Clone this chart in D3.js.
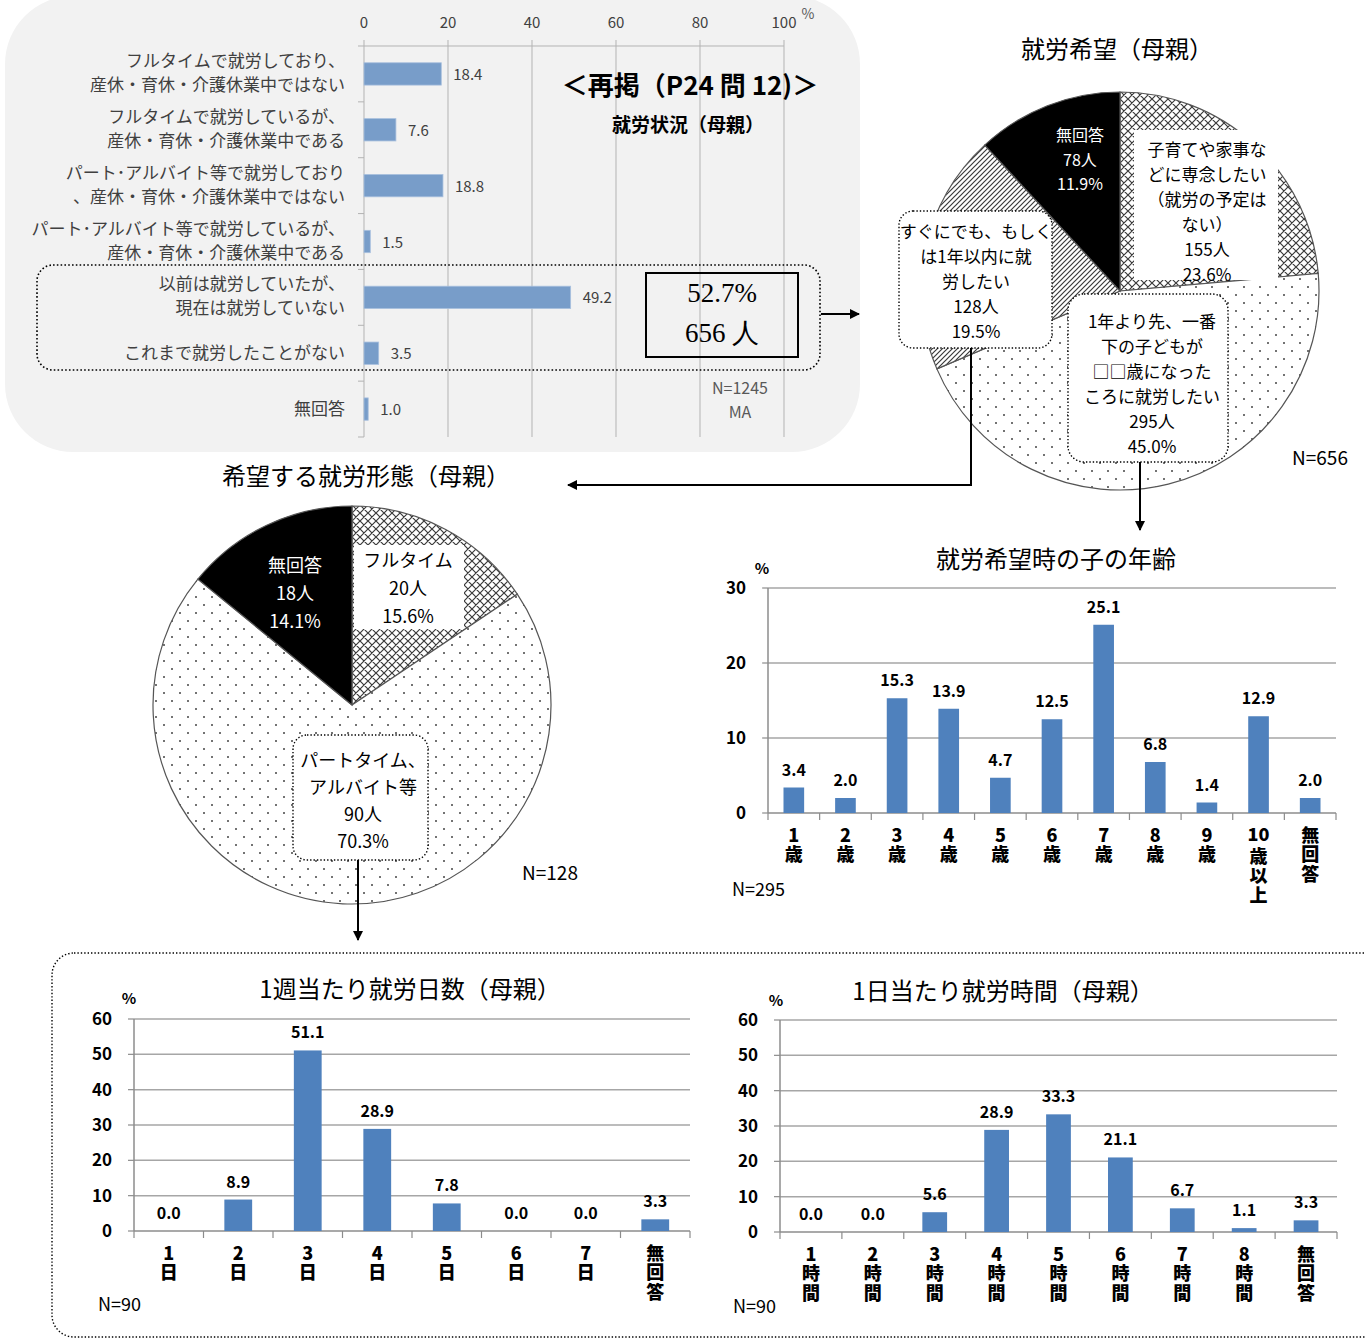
<!DOCTYPE html>
<html><head><meta charset="utf-8">
<script src="https://cdn.jsdelivr.net/npm/d3@7/dist/d3.min.js"></script>
<style>body{margin:0;background:#fff}svg{display:block}</style>
</head><body>
<script>
// ---------------- DATA ----------------
const statusLabels = [
  ["フルタイムで就労しており、", "産休・育休・介護休業中ではない"],
  ["フルタイムで就労しているが、", "産休・育休・介護休業中である"],
  ["パート･アルバイト等で就労しており", "、産休・育休・介護休業中ではない"],
  ["パート･アルバイト等で就労しているが、", "産休・育休・介護休業中である"],
  ["以前は就労していたが、", "現在は就労していない"],
  ["これまで就労したことがない"],
  ["無回答"]
];
const statusValues = [18.4, 7.6, 18.8, 1.5, 49.2, 3.5, 1.0];
const statusTicks = [0, 20, 40, 60, 80, 100];

const wishLabels = [
  ["子育てや家事な", "どに専念したい", "（就労の予定は", "ない）"],
  ["1年より先、一番", "下の子どもが", "□□歳になった", "ころに就労したい"],
  ["すぐにでも、もしく", "は1年以内に就", "労したい"],
  ["無回答"]
];
const wishCounts = [155, 295, 128, 78];
const wishPercents = [23.6, 45.0, 19.5, 11.9];

const formLabels = [["フルタイム"], ["パートタイム、", "アルバイト等"], ["無回答"]];
const formCounts = [20, 90, 18];
const formPercents = [15.6, 70.3, 14.1];

const ageCats = [["1","歳"],["2","歳"],["3","歳"],["4","歳"],["5","歳"],["6","歳"],["7","歳"],["8","歳"],["9","歳"],["10","歳","以","上"],["無","回","答"]];
const ageValues = [3.4, 2.0, 15.3, 13.9, 4.7, 12.5, 25.1, 6.8, 1.4, 12.9, 2.0];
const ageTicks = [0, 10, 20, 30];

const dayCats = [["1","日"],["2","日"],["3","日"],["4","日"],["5","日"],["6","日"],["7","日"],["無","回","答"]];
const dayValues = [0.0, 8.9, 51.1, 28.9, 7.8, 0.0, 0.0, 3.3];
const dayTicks = [0, 10, 20, 30, 40, 50, 60];

const hourCats = [["1","時","間"],["2","時","間"],["3","時","間"],["4","時","間"],["5","時","間"],["6","時","間"],["7","時","間"],["8","時","間"],["無","回","答"]];
const hourValues = [0.0, 0.0, 5.6, 28.9, 33.3, 21.1, 6.7, 1.1, 3.3];
const hourTicks = [0, 10, 20, 30, 40, 50, 60];

// ---------------- SETUP ----------------
const W = 1366, H = 1339;
const FONT = "'Noto Sans CJK JP','Noto Sans',sans-serif";
const svg = d3.select("body").append("svg").attr("width", W).attr("height", H)
  .style("font-family", FONT);
const defs = svg.append("defs");

// patterns
const pc = defs.append("pattern").attr("id", "cross").attr("patternUnits", "userSpaceOnUse").attr("width", 8).attr("height", 8);
pc.append("rect").attr("width", 8).attr("height", 8).attr("fill", "#fff");
pc.append("path").attr("d", "M0,0L8,8M8,0L0,8M-1,7L1,9M7,-1L9,1").attr("stroke", "#3a3a3a").attr("stroke-width", 1.2);

const pd = defs.append("pattern").attr("id", "dots").attr("patternUnits", "userSpaceOnUse").attr("width", 16).attr("height", 16);
pd.append("rect").attr("width", 16).attr("height", 16).attr("fill", "#fff");
pd.append("circle").attr("cx", 4).attr("cy", 4).attr("r", 1).attr("fill", "#444");
pd.append("circle").attr("cx", 12).attr("cy", 12).attr("r", 1).attr("fill", "#444");

const ps = defs.append("pattern").attr("id", "stripes").attr("patternUnits", "userSpaceOnUse").attr("width", 5).attr("height", 5);
ps.append("rect").attr("width", 5).attr("height", 5).attr("fill", "#fff");
ps.append("path").attr("d", "M-1,1L1,-1M0,5L5,0M4,6L6,4").attr("stroke", "#3a3a3a").attr("stroke-width", 1.2);

defs.append("marker").attr("id", "arr").attr("viewBox", "0 0 10 10").attr("refX", 9).attr("refY", 5)
  .attr("markerWidth", 6).attr("markerHeight", 5).attr("orient", "auto")
  .append("path").attr("d", "M0,0L10,5L0,10z").attr("fill", "#000");

function lines(g, arr, x, y0, lh, opts) {
  const t = g.append("text").attr("x", x).attr("y", y0).attr("text-anchor", opts.anchor || "middle")
    .attr("font-size", opts.size || 16).attr("fill", opts.fill || "#000")
    .attr("font-weight", opts.weight || 400);
  if (opts.family) t.style("font-family", opts.family);
  if (opts.ls) t.attr("letter-spacing", opts.ls);
  arr.forEach((s, i) => t.append("tspan").attr("x", x).attr("y", y0 + i * lh).text(s));
  return t;
}

// ---------------- PANEL 1: status bar chart ----------------
const p1 = svg.append("g");
p1.append("rect").attr("x", 5).attr("y", -4).attr("width", 855).attr("height", 456).attr("rx", 68).attr("fill", "#f2f2f2");

const sx = d3.scaleLinear().domain([0, 100]).range([364, 784]);
const sy = d3.scaleBand().domain(statusValues.map((d, i) => i)).range([46, 437]).paddingInner(0.6).paddingOuter(0.3);

p1.selectAll("line.vg").data(statusTicks).join("line")
  .attr("x1", d => sx(d)).attr("x2", d => sx(d)).attr("y1", 40).attr("y2", 437)
  .attr("stroke", "#b3b3b3").attr("stroke-width", 1);
p1.append("line").attr("x1", sx(0)).attr("x2", sx(100)).attr("y1", 46).attr("y2", 46).attr("stroke", "#b3b3b3");
p1.selectAll("line.lt").data(d3.range(statusValues.length + 1)).join("line")
  .attr("x1", sx(0) - 6).attr("x2", sx(0)).attr("y1", i => 46 + i * sy.step()).attr("y2", i => 46 + i * sy.step())
  .attr("stroke", "#b3b3b3");
p1.selectAll("text.tk").data(statusTicks).join("text")
  .attr("x", d => sx(d)).attr("y", 28).attr("text-anchor", "middle").attr("font-size", 15).attr("fill", "#404040").text(d => d);
p1.append("text").attr("x", 808).attr("y", 19).attr("text-anchor", "middle").attr("font-size", 14).attr("fill", "#595959").text("%");

p1.selectAll("rect.bar").data(statusValues).join("rect")
  .attr("x", sx(0)).attr("y", (d, i) => sy(i)).attr("width", d => sx(d) - sx(0)).attr("height", sy.bandwidth())
  .attr("fill", "#789dc9").attr("stroke", "#a9c0de").attr("stroke-width", 0.8);
p1.selectAll("text.val").data(statusValues).join("text")
  .attr("x", d => sx(d) + 12).attr("y", (d, i) => sy(i) + sy.bandwidth() / 2 + 6)
  .attr("font-size", 15).attr("fill", "#404040").text(d => d.toFixed(1));
statusLabels.forEach((lab, i) => {
  const c = sy(i) + sy.bandwidth() / 2;
  const y0 = lab.length === 2 ? c - 7 : c + 6;
  lines(p1, lab, 345, y0, 24, { anchor: "end", size: 17, fill: "#404040" });
});

// dotted group box
p1.append("rect").attr("x", 37).attr("y", 265).attr("width", 783).attr("height", 105).attr("rx", 16)
  .attr("fill", "none").attr("stroke", "#000").attr("stroke-width", 1.6).attr("stroke-dasharray", "1.6,2.2");
p1.append("rect").attr("x", 646).attr("y", 273).attr("width", 152).attr("height", 84)
  .attr("fill", "none").attr("stroke", "#000").attr("stroke-width", 2);
lines(p1, ["52.7%", "656 人"], 722, 302, 40, { size: 27, family: "'Liberation Serif','DejaVu Serif',serif" });
p1.append("text").attr("x", 690).attr("y", 95).attr("text-anchor", "middle").attr("font-size", 26).attr("font-weight", 700).text("＜再掲（P24 問 12)＞");
p1.append("text").attr("x", 688).attr("y", 132).attr("text-anchor", "middle").attr("font-size", 19).attr("font-weight", 700).text("就労状況（母親）");
lines(p1, ["N=1245", "MA"], 740, 394, 24, { size: 16, fill: "#595959" });
svg.append("line").attr("x1", 821).attr("x2", 859).attr("y1", 314).attr("y2", 314)
  .attr("stroke", "#000").attr("stroke-width", 2).attr("marker-end", "url(#arr)");

// ---------------- PIE helper ----------------
function pie(cfg) {
  const g = svg.append("g").attr("transform", `translate(${cfg.cx},${cfg.cy})`);
  const arcs = d3.pie().sort(null).value(d => d)(cfg.values);
  const arc = d3.arc().innerRadius(0).outerRadius(cfg.r);
  g.selectAll("path").data(arcs).join("path")
    .attr("d", arc).attr("fill", (d, i) => cfg.fills[i]).attr("stroke", "#555").attr("stroke-width", 1.2);
  return { g, arcs, arc };
}

// ---------------- PIE 1 ----------------
svg.append("text").attr("x", 1117).attr("y", 58).attr("text-anchor", "middle").attr("font-size", 24).text("就労希望（母親）");
pie({ cx: 1120, cy: 291, r: 199, values: wishPercents, fills: ["url(#cross)", "url(#dots)", "url(#stripes)", "#000"] });
svg.append("rect").attr("x", 1134).attr("y", 130).attr("width", 144).attr("height", 150).attr("fill", "#fff");
lines(svg, [...wishLabels[0], wishCounts[0] + "人", wishPercents[0].toFixed(1) + "%"], 1207, 156, 25, { size: 17 });
lines(svg, [...wishLabels[3], wishCounts[3] + "人", wishPercents[3].toFixed(1) + "%"], 1080, 141, 24.5, { size: 16, fill: "#fff" });
svg.append("rect").attr("x", 899).attr("y", 211).attr("width", 153).attr("height", 137).attr("rx", 14)
  .attr("fill", "#fff").attr("stroke", "#000").attr("stroke-width", 1.4).attr("stroke-dasharray", "1.4,2");
lines(svg, [...wishLabels[2], wishCounts[2] + "人", wishPercents[2].toFixed(1) + "%"], 976, 238, 25, { size: 17 });
svg.append("rect").attr("x", 1068).attr("y", 294).attr("width", 160).attr("height", 168).attr("rx", 16)
  .attr("fill", "#fff").attr("stroke", "#000").attr("stroke-width", 1.4).attr("stroke-dasharray", "1.4,2");
lines(svg, [...wishLabels[1], wishCounts[1] + "人", wishPercents[1].toFixed(1) + "%"], 1152, 328, 25, { size: 17 });
svg.append("text").attr("x", 1320).attr("y", 465).attr("text-anchor", "middle").attr("font-size", 19).text("N=656");

// connectors
svg.append("path").attr("d", "M971,348V485H568").attr("fill", "none").attr("stroke", "#000").attr("stroke-width", 2).attr("marker-end", "url(#arr)");
svg.append("path").attr("d", "M1140,462V530").attr("fill", "none").attr("stroke", "#000").attr("stroke-width", 2).attr("marker-end", "url(#arr)");

// ---------------- PIE 2 ----------------
svg.append("text").attr("x", 366).attr("y", 485).attr("text-anchor", "middle").attr("font-size", 24).text("希望する就労形態（母親）");
pie({ cx: 352, cy: 705, r: 199, values: formPercents, fills: ["url(#cross)", "url(#dots)", "#000"] });
svg.append("rect").attr("x", 354).attr("y", 545).attr("width", 110).attr("height", 84).attr("fill", "#fff");
lines(svg, [...formLabels[0], formCounts[0] + "人", formPercents[0].toFixed(1) + "%"], 408, 567, 28, { size: 18 });
lines(svg, [...formLabels[2], formCounts[2] + "人", formPercents[2].toFixed(1) + "%"], 295, 572, 28, { size: 18, fill: "#fff" });
svg.append("rect").attr("x", 293).attr("y", 735).attr("width", 135).attr("height", 125).attr("rx", 14)
  .attr("fill", "#fff").attr("stroke", "#000").attr("stroke-width", 1.4).attr("stroke-dasharray", "1.4,2");
lines(svg, [...formLabels[1], formCounts[1] + "人", formPercents[1].toFixed(1) + "%"], 363, 767, 27, { size: 18 });
svg.append("text").attr("x", 550).attr("y", 880).attr("text-anchor", "middle").attr("font-size", 19).text("N=128");
svg.append("path").attr("d", "M358,860V940").attr("fill", "none").attr("stroke", "#000").attr("stroke-width", 2).attr("marker-end", "url(#arr)");

// ---------------- BAR CHART helper ----------------
function barChart(cfg) {
  const g = svg.append("g");
  const n = cfg.values.length;
  const x = d3.scaleBand().domain(d3.range(n)).range([cfg.x0, cfg.x1]).paddingInner(0.6).paddingOuter(0.3);
  const y = d3.scaleLinear().domain([0, cfg.ticks[cfg.ticks.length - 1]]).range([cfg.yBase, cfg.yTop]);
  g.selectAll("line.grid").data(cfg.ticks.filter(t => t > 0)).join("line")
    .attr("x1", cfg.x0).attr("x2", cfg.x1).attr("y1", d => y(d)).attr("y2", d => y(d))
    .attr("stroke", "#a6a6a6").attr("stroke-width", 1.5);
  g.selectAll("line.ytk").data(cfg.ticks).join("line")
    .attr("x1", cfg.x0 - 6).attr("x2", cfg.x0).attr("y1", d => y(d)).attr("y2", d => y(d))
    .attr("stroke", "#8c8c8c").attr("stroke-width", 1.2);
  g.append("line").attr("x1", cfg.x0).attr("x2", cfg.x0).attr("y1", y(0)).attr("y2", y.range()[1])
    .attr("stroke", "#8c8c8c").attr("stroke-width", 1.5);
  g.append("line").attr("x1", cfg.x0).attr("x2", cfg.x1).attr("y1", y(0)).attr("y2", y(0))
    .attr("stroke", "#8c8c8c").attr("stroke-width", 1.5);
  g.selectAll("line.xtk").data(d3.range(n + 1)).join("line")
    .attr("x1", i => cfg.x0 + i * x.step()).attr("x2", i => cfg.x0 + i * x.step())
    .attr("y1", y(0)).attr("y2", y(0) + 7).attr("stroke", "#8c8c8c").attr("stroke-width", 1.2);
  g.selectAll("text.ytl").data(cfg.ticks).join("text")
    .attr("x", cfg.x0 - 22).attr("y", d => y(d) + 6).attr("text-anchor", "end")
    .attr("font-size", 17).attr("font-weight", 700).text(d => d);
  g.selectAll("rect.bar").data(cfg.values).join("rect")
    .attr("x", (d, i) => x(i)).attr("y", d => y(d)).attr("width", x.bandwidth()).attr("height", d => y(0) - y(d))
    .attr("fill", "#4f81bd");
  g.selectAll("text.val").data(cfg.values).join("text")
    .attr("x", (d, i) => x(i) + x.bandwidth() / 2).attr("y", d => y(d) - 12).attr("text-anchor", "middle")
    .attr("font-size", 16).attr("font-weight", 700).text(d => d.toFixed(1));
  // stacked (vertical) category labels
  cfg.cats.forEach((lab, i) => {
    const cx = x(i) + x.bandwidth() / 2;
    let y0 = y(0) + 13;
    let rest = lab;
    if (lab[0].length > 1) {
      g.append("text").attr("x", cx).attr("y", y(0) + 28).attr("text-anchor", "middle")
        .attr("font-size", 18).attr("font-weight", 900).text(lab[0]);
      rest = lab.slice(1);
      y0 += 21;
    }
    g.append("text").attr("x", cx).attr("y", y0).attr("writing-mode", "vertical-rl")
      .style("text-orientation", "upright").attr("letter-spacing", 1.5)
      .attr("font-size", 18).attr("font-weight", 900).text(rest.join(""));
  });
  g.append("text").attr("x", cfg.pctX).attr("y", cfg.pctY).attr("text-anchor", "middle").attr("font-size", 15).attr("font-weight", 700).text("%");
  g.append("text").attr("x", cfg.titleX).attr("y", cfg.titleY).attr("text-anchor", "middle").attr("font-size", 24).text(cfg.title);
  g.append("text").attr("x", cfg.nX).attr("y", cfg.nY).attr("font-size", 18).text(cfg.n);
}

barChart({ cats: ageCats, values: ageValues, ticks: ageTicks, x0: 768, x1: 1336, yBase: 813, yTop: 588,
  title: "就労希望時の子の年齢", titleX: 1056, titleY: 568, pctX: 762, pctY: 574, nX: 732, nY: 896, n: "N=295" });

// bottom dotted panel
svg.append("rect").attr("x", 52).attr("y", 953).attr("width", 1340).attr("height", 384).attr("rx", 22)
  .attr("fill", "none").attr("stroke", "#000").attr("stroke-width", 1.4).attr("stroke-dasharray", "1.4,2");

barChart({ cats: dayCats, values: dayValues, ticks: dayTicks, x0: 134, x1: 690, yBase: 1231, yTop: 1019,
  title: "1週当たり就労日数（母親）", titleX: 410, titleY: 998, pctX: 129, pctY: 1004, nX: 98, nY: 1311, n: "N=90" });

barChart({ cats: hourCats, values: hourValues, ticks: hourTicks, x0: 780, x1: 1337, yBase: 1232, yTop: 1020,
  title: "1日当たり就労時間（母親）", titleX: 1003, titleY: 1000, pctX: 776, pctY: 1006, nX: 733, nY: 1313, n: "N=90" });
</script>
</body></html>
